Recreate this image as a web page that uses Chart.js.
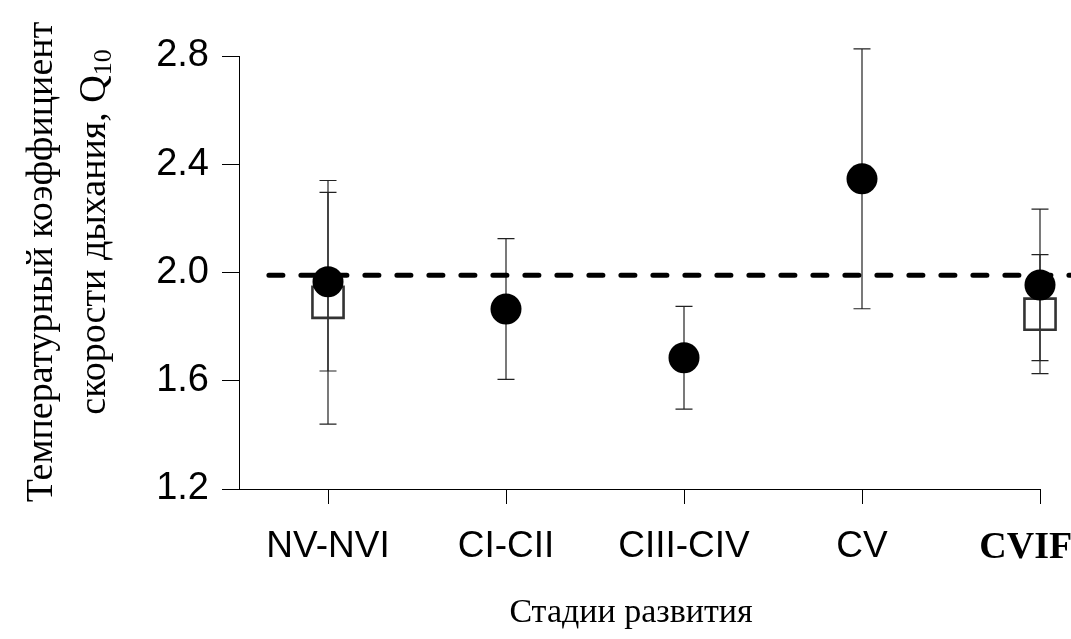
<!DOCTYPE html>
<html>
<head>
<meta charset="utf-8">
<script src="https://cdn.jsdelivr.net/npm/chart.js@4.4.0/dist/chart.umd.min.js"></script>
<style>
  html, body { margin: 0; padding: 0; background: #fff; }
  #wrap { width: 1071px; height: 639px; }
</style>
</head>
<body>
<div id="wrap"><canvas id="chart" width="1071" height="639"></canvas></div>
<script>
// стадии развития (категории оси X)
const stages = ['NV-NVI', 'CI-CII', 'CIII-CIV', 'CV', 'CVIF'];
const yTicks = [1.2, 1.6, 2.0, 2.4, 2.8];

// залитые кружки: среднее и ошибка
const circleMean = [1.966, 1.865, 1.685, 2.346, 1.954];
const circleErr = [0.33, 0.26, 0.19, 0.48, 0.28];

// открытые квадраты (только для NV-NVI и CVIF)
const squareMean = [1.89, null, null, null, 1.846];
const squareErr = [0.45, null, null, null, 0.22];

// пунктирная линия Q10 = 2
const refLevel = 1.99;
const refFrom = -0.332;
const refTo = 4.2;

const sans = "'Liberation Sans', Arial, sans-serif";
const serif = "'Liberation Serif', 'Times New Roman', serif";

const toPoints = (means) => means
  .map((m, i) => (m === null ? null : { x: i, y: m }))
  .filter(p => p !== null);

// усы ошибок рисуем сами, через шкалы графика
const errorBars = {
  id: 'errorBars',
  beforeDatasetsDraw(chart) {
    const { ctx, scales: { x, y } } = chart;
    const cap = 8.5;
    ctx.save();
    ctx.strokeStyle = '#222';
    ctx.lineWidth = 1.2;
    const drawSet = (means, errs) => {
      means.forEach((m, i) => {
        if (m === null) return;
        const px = x.getPixelForValue(i);
        const top = y.getPixelForValue(m + errs[i]);
        const bot = y.getPixelForValue(m - errs[i]);
        ctx.beginPath();
        ctx.moveTo(px, top); ctx.lineTo(px, bot);
        ctx.moveTo(px - cap, top); ctx.lineTo(px + cap, top);
        ctx.moveTo(px - cap, bot); ctx.lineTo(px + cap, bot);
        ctx.stroke();
      });
    };
    drawSet(squareMean, squareErr);
    drawSet(circleMean, circleErr);
    ctx.restore();
  }
};

// подписи осей (двухстрочная с индексом Q10)
const axisTitles = {
  id: 'axisTitles',
  afterDraw(chart) {
    const { ctx } = chart;
    ctx.save();
    ctx.fillStyle = '#000';
    ctx.font = `34px ${serif}`;
    ctx.textAlign = 'center';
    ctx.textBaseline = 'middle';
    ctx.fillText('Стадии развития', 631, 613);

    ctx.rotate(-Math.PI / 2);
    ctx.font = `38px ${serif}`;
    ctx.fillText('Температурный коэффициент', -262, 42);

    const main = 'скорости дыхания, Q';
    const sub = '10';
    const wMain = ctx.measureText(main).width;
    ctx.font = `26px ${serif}`;
    const wSub = ctx.measureText(sub).width;
    const start = -232 - (wMain + wSub) / 2;
    ctx.textAlign = 'left';
    ctx.font = `38px ${serif}`;
    ctx.fillText(main, start, 95);
    ctx.font = `26px ${serif}`;
    ctx.fillText(sub, start + wMain, 104);
    ctx.restore();
  }
};

new Chart(document.getElementById('chart'), {
  type: 'scatter',
  data: {
    datasets: [
      {
        label: 'circles',
        data: toPoints(circleMean),
        pointStyle: 'circle',
        pointRadius: 15.5,
        pointHoverRadius: 15.5,
        backgroundColor: '#000',
        borderColor: '#000',
        borderWidth: 0,
        clip: false,
        order: 0
      },
      {
        label: 'squares',
        data: toPoints(squareMean),
        pointStyle: 'rect',
        pointRadius: 22,
        pointHoverRadius: 22,
        backgroundColor: 'rgba(0,0,0,0)',
        borderColor: '#333',
        borderWidth: 2.6,
        clip: false,
        order: 1
      },
      {
        label: 'ref',
        type: 'line',
        data: [{ x: refFrom, y: refLevel }, { x: refTo, y: refLevel }],
        borderColor: '#000',
        borderWidth: 5,
        borderDash: [14, 18],
        borderCapStyle: 'round',
        pointRadius: 0,
        fill: false,
        clip: false,
        order: 2
      }
    ]
  },
  options: {
    responsive: false,
    animation: false,
    events: [],
    layout: { padding: { left: 0, right: 31, top: 56, bottom: 0 } },
    plugins: {
      legend: { display: false },
      tooltip: { enabled: false }
    },
    scales: {
      x: {
        type: 'linear',
        min: -0.5,
        max: 4,
        afterBuildTicks: s => { s.ticks = stages.map((_, i) => ({ value: i })); },
        afterFit: s => { s.height = 150; s.paddingLeft = 0; s.paddingRight = 0; },
        grid: { drawOnChartArea: false, drawTicks: true, tickLength: 15, color: '#000', lineWidth: 1 },
        border: { display: true, color: '#000', width: 1 },
        ticks: {
          autoSkip: false,
          maxRotation: 0,
          minRotation: 0,
          padding: 21,
          color: '#000',
          // последняя подпись обрезана краем, как в оригинале
          callback: v => (v === 4 ? stages[v] + '\u00a0\u00a0\u00a0' : stages[v]),
          font: c => (c.index === 4
            ? { family: serif, size: 38, weight: 'bold' }
            : { family: sans, size: 37 })
        }
      },
      y: {
        min: 1.2,
        max: 2.8,
        afterBuildTicks: s => { s.ticks = yTicks.map(v => ({ value: v })); },
        afterFit: s => { s.width = 239; },
        grid: { drawOnChartArea: false, drawTicks: true, tickLength: 17, color: '#000', lineWidth: 1 },
        border: { display: true, color: '#000', width: 1 },
        ticks: {
          padding: 13,
          color: '#000',
          font: { family: sans, size: 38 },
          callback: v => v.toFixed(1)
        }
      }
    }
  },
  plugins: [errorBars, axisTitles]
});
</script>
</body>
</html>
